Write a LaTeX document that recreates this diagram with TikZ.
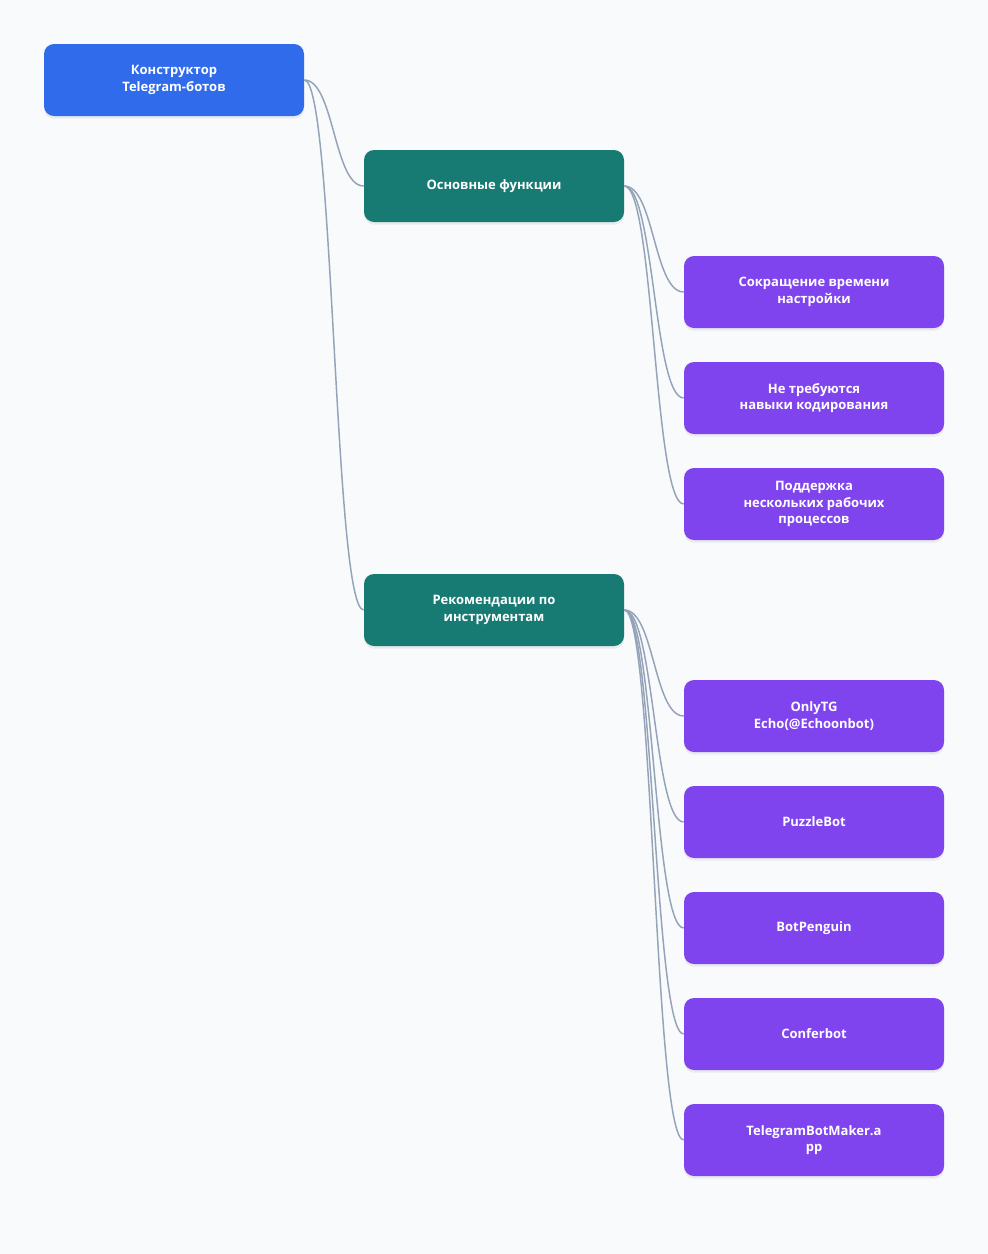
\documentclass[tikz,border=0pt]{standalone}
\usepackage{fontspec}
\setmainfont{Open Sans}
\usetikzlibrary{shadows}
\definecolor{bg}{HTML}{F8FAFC}
\definecolor{rootc}{HTML}{2F6BEA}
\definecolor{midc}{HTML}{187B73}
\definecolor{leafc}{HTML}{8044EE}
\definecolor{edgec}{HTML}{94A3B8}
\tikzset{
  box/.style={rectangle, rounded corners=7.5pt, minimum width=195pt, minimum height=54pt, inner sep=0pt,
    text=white, align=center, font=\fontsize{9.75}{12.5}\selectfont\bfseries,
    drop shadow={opacity=0.12, shadow xshift=0pt, shadow yshift=-2pt}},
  rootbox/.style={box, fill=rootc},
  midbox/.style={box, fill=midc},
  leafbox/.style={box, fill=leafc},
  link/.style={draw=edgec, line width=1.1pt},
}
\begin{document}
\begin{tikzpicture}[x=0.75pt,y=-0.75pt]
\fill[bg] (0,0) rectangle (988,1254);
\useasboundingbox (0,0) rectangle (988,1254);
\node[rootbox] (r) at (174,80) {Конструктор\\Telegram-ботов};
\node[midbox] (a) at (494,186) {Основные функции};
\node[midbox] (b) at (494,610) {Рекомендации по\\инструментам};
\node[leafbox] (a1) at (814,292) {Сокращение времени\\настройки};
\node[leafbox] (a2) at (814,398) {Не требуются\\навыки кодирования};
\node[leafbox] (a3) at (814,504) {Поддержка\\нескольких рабочих\\процессов};
\node[leafbox] (b1) at (814,716) {OnlyTG\\Echo(@Echoonbot)};
\node[leafbox] (b2) at (814,822) {PuzzleBot};
\node[leafbox] (b3) at (814,928) {BotPenguin};
\node[leafbox] (b4) at (814,1034) {Conferbot};
\node[leafbox] (b5) at (814,1140) {TelegramBotMaker.a\\pp};
\begin{scope}[on background layer/.try]
\foreach \p/\c in {r/a,r/b,a/a1,a/a2,a/a3,b/b1,b/b2,b/b3,b/b4,b/b5}
  \draw[link] (\p.east) .. controls ([xshift=22.5pt]\p.east) and ([xshift=-22.5pt]\c.west) .. (\c.west);
\end{scope}
\end{tikzpicture}
\end{document}
